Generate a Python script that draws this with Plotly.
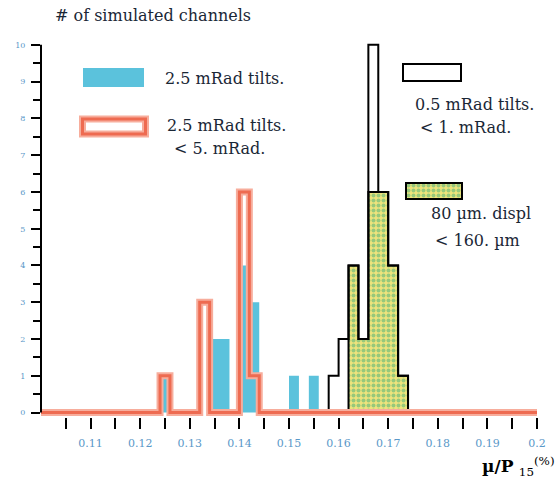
import numpy as np
import plotly.graph_objects as go

# ---------------------------------------------------------------- data
BIN_WIDTH = 0.002
X_LO, X_HI = 0.10, 0.20

# non-empty bins of each histogram: lower bin edge and number of channels
tilt25_edges = [0.124, 0.134, 0.136, 0.140, 0.142, 0.150, 0.154]
tilt25_counts = [1, 2, 2, 4, 3, 1, 1]

tilt25_cut5_edges = [0.124, 0.132, 0.140, 0.142]
tilt25_cut5_counts = [1, 3, 6, 1]

tilt05_cut1_edges = [0.158, 0.160, 0.162, 0.164, 0.166, 0.168, 0.170, 0.172]
tilt05_cut1_counts = [1, 2, 4, 2, 10, 6, 4, 1]

displ80_edges = [0.162, 0.164, 0.166, 0.168, 0.170, 0.172]
displ80_counts = [4, 2, 6, 6, 4, 1]

x_tick_vals = [0.11, 0.12, 0.13, 0.14, 0.15, 0.16, 0.17, 0.18, 0.19, 0.20]
x_tick_labels = ["0.11", "0.12", "0.13", "0.14", "0.15",
                 "0.16", "0.17", "0.18", "0.19", "0.2"]

# ---------------------------------------------------------------- styles
W, H = 558, 481
M_L, M_R, M_T, M_B = 41, 21, 43, 64
SERIF = "DejaVu Serif"
TEXT = "#1a2736"
TICK_TXT = "#5a98c8"
BLUE = "#5bc2dc"
RED = "#ee6b51"
RED_HALO = "#f7ad9c"
GREEN_FG = "#3fae7a"
GREEN_BG = "#eee37c"
HATCH = dict(shape=".", fgcolor=GREEN_FG, bgcolor=GREEN_BG, size=5, solidity=0.5)

n_bins = int(round((X_HI - X_LO) / BIN_WIDTH))
all_edges = X_LO + BIN_WIDTH * np.arange(n_bins + 1)


def full_hist(edges, counts):
    h = np.zeros(n_bins)
    for e, c in zip(edges, counts):
        h[int(round((e - X_LO) / BIN_WIDTH))] = c
    return h


def step_full(h):
    """Step outline over the whole axis range (runs along zero)."""
    return all_edges, np.append(h, h[-1])


def step_local(h):
    """Step outline closed to zero only around the filled bins."""
    nz = np.nonzero(h)[0]
    i0, i1 = nz[0], nz[-1]
    x = np.concatenate([[all_edges[i0]], all_edges[i0:i1 + 2]])
    y = np.concatenate([[0], h[i0:i1 + 1], [0]])
    return x, y


def px_x(p):
    return (p - M_L) / (W - M_L - M_R)


def px_y(p):
    return (H - M_B - p) / (H - M_T - M_B)


fig = go.Figure()

# 2.5 mRad tilts: filled histogram
sx, sy = step_full(full_hist(tilt25_edges, tilt25_counts))
fig.add_trace(go.Scatter(x=sx, y=sy, mode="lines", line_shape="hv",
                         line=dict(width=0, color=BLUE), fill="tozeroy",
                         fillcolor=BLUE))

# 80 um displacement: hatched histogram with black outline
h_d = full_hist(displ80_edges, displ80_counts)
sx, sy = step_full(h_d)
fig.add_trace(go.Scatter(x=sx, y=sy, mode="lines", line_shape="hv",
                         line=dict(width=0, color=GREEN_BG), fill="tozeroy",
                         fillcolor=GREEN_BG, fillpattern=HATCH))
sx, sy = step_local(h_d)
fig.add_trace(go.Scatter(x=sx, y=sy, mode="lines", line_shape="hv",
                         line=dict(color="black", width=2)))

# 0.5 mRad tilts: open black histogram
sx, sy = step_local(full_hist(tilt05_cut1_edges, tilt05_cut1_counts))
fig.add_trace(go.Scatter(x=sx, y=sy, mode="lines", line_shape="hv",
                         line=dict(color="black", width=2)))

# 2.5 mRad tilts < 5 mRad: thick open salmon histogram
sx, sy = step_full(full_hist(tilt25_cut5_edges, tilt25_cut5_counts))
fig.add_trace(go.Scatter(x=sx, y=sy, mode="lines", line_shape="hv",
                         line=dict(color=RED_HALO, width=7)))
fig.add_trace(go.Scatter(x=sx, y=sy, mode="lines", line_shape="hv",
                         line=dict(color=RED, width=3)))

# legend swatches live on a pixel-scaled overlay axis pair
fig.add_trace(go.Bar(x=[434], y=[16], base=[183], width=[56],
                     xaxis="x2", yaxis="y2",
                     marker=dict(color=GREEN_BG, pattern=HATCH,
                                 line=dict(color="black", width=2))))

shapes = [
    # y axis line from 0 to 10
    dict(type="line", xref="paper", yref="y", x0=0, x1=0, y0=0, y1=10,
         line=dict(color="black", width=2)),
    dict(type="rect", xref="x2", yref="y2", x0=83, x1=144, y0=68, y1=87,
         fillcolor=BLUE, line=dict(width=0)),
    dict(type="rect", xref="x2", yref="y2", x0=82.5, x1=145.5, y0=119, y1=134,
         fillcolor="white", line=dict(color=RED_HALO, width=7)),
    dict(type="rect", xref="x2", yref="y2", x0=82.5, x1=145.5, y0=119, y1=134,
         fillcolor="rgba(0,0,0,0)", line=dict(color=RED, width=3)),
    dict(type="rect", xref="x2", yref="y2", x0=403, x1=461, y0=64, y1=81,
         fillcolor="white", line=dict(color="black", width=2)),
]

labels = [
    ("# of simulated channels", 53, 16),
    ("2.5 mRad tilts.", 163, 78),
    ("2.5 mRad tilts.", 165, 125),
    ("< 5. mRad.", 172, 148),
    ("0.5 mRad tilts.", 413, 104),
    ("< 1. mRad.", 418, 127),
    ("80 µm. displ", 429, 213),
    ("< 160. µm", 433, 240),
]
annotations = [
    dict(text=t, x=px_x(x), y=px_y(y), xref="paper", yref="paper",
         xanchor="left", yanchor="middle", showarrow=False,
         font=dict(family=SERIF, size=16, color=TEXT))
    for t, x, y in labels
]
annotations.append(
    dict(text="<b>µ/P</b> <sub>15</sub><sup>(%)</sup>", x=px_x(557), y=px_y(466),
         xref="paper", yref="paper", xanchor="right", yanchor="middle",
         showarrow=False, font=dict(family=SERIF, size=17, color="black")))

minor_x = list(np.round(np.arange(0.105, 0.2, 0.01), 3))

fig.update_layout(
    width=W, height=H,
    margin=dict(l=M_L, r=M_R, t=M_T, b=M_B),
    paper_bgcolor="white", plot_bgcolor="white",
    showlegend=False, barmode="overlay",
    shapes=shapes, annotations=annotations,
    xaxis=dict(range=[X_LO, X_HI], tickmode="array", tickvals=x_tick_vals,
               ticktext=x_tick_labels, ticks="outside", ticklen=11,
               tickwidth=2, tickcolor="black", showline=False, zeroline=False,
               showgrid=False, ticklabelstandoff=5,
               tickfont=dict(family=SERIF, size=11, color=TICK_TXT),
               minor=dict(tickmode="array", tickvals=minor_x, ticks="outside",
                          ticklen=11, tickwidth=2, tickcolor="black")),
    yaxis=dict(range=[-0.12, 10.05], tickmode="linear", tick0=0, dtick=1,
               ticks="outside", ticklen=9, tickwidth=2, tickcolor="black",
               showline=False, zeroline=False, showgrid=False,
               ticklabelstandoff=4,
               tickfont=dict(family=SERIF, size=8, color=TICK_TXT),
               minor=dict(dtick=0.5, ticks="outside", ticklen=7, tickwidth=2,
                          tickcolor="black")),
    xaxis2=dict(overlaying="x", range=[M_L, W - M_R], visible=False),
    yaxis2=dict(overlaying="y", range=[H - M_B, M_T], visible=False),
)

fig.write_html("out.html")
